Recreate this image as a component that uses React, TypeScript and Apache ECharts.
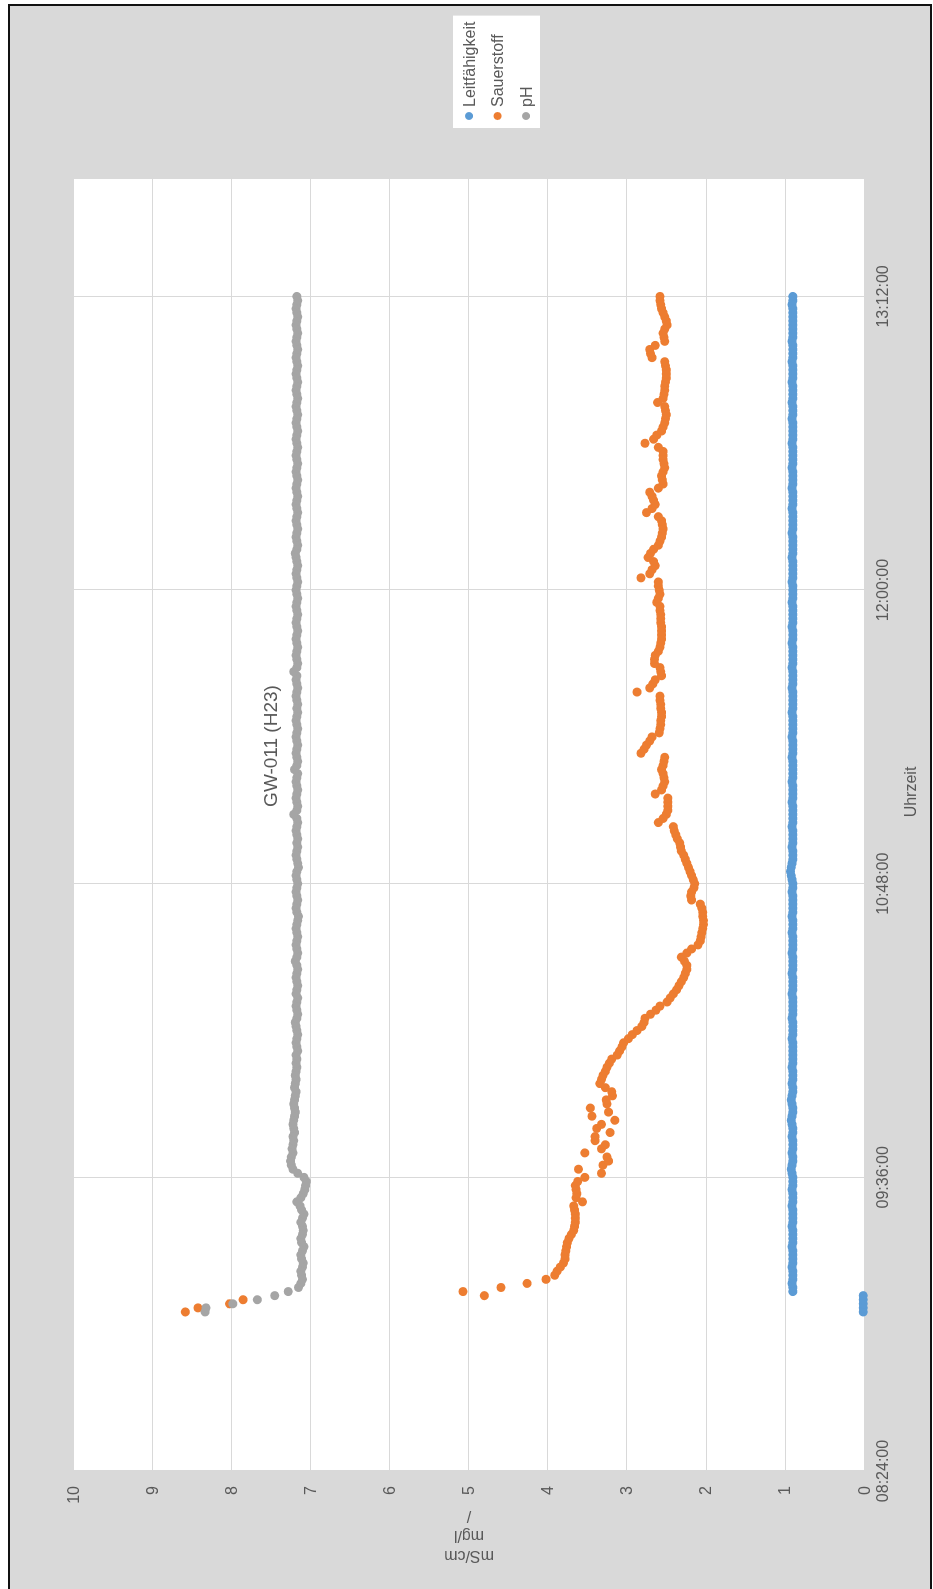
import React, { useEffect, useRef } from "react";
import * as echarts from "echarts";

// ---------- texts ----------
const TITLE = "GW-011 (H23)";
const SERIES_NAMES = ["Leitfähigkeit", "Sauerstoff", "pH"];
const X_AXIS_NAME = "Uhrzeit";
const Y_AXIS_NAME_LINES = ["mS/cm", "mg/l", "/"];

// ---------- axes (minutes since midnight) ----------
const TIME_MIN = 504; // 08:24:00
const TIME_MAX = 820.8; // 13:40:48
const TIME_STEP = 72; // 01:12:00
const VALUE_MIN = 0;
const VALUE_MAX = 10;
const VALUE_STEP = 1;

// ---------- samples: one reading per minute from 09:03 ----------
const SAMPLE_START = 543; // 09:03
const SAMPLE_STEP = 1;

const leitfaehigkeit = [
  0.01, 0.01, 0.01, 0.01, 0.01,
  0.90, 0.90, 0.91, 0.90, 0.90, 0.90, 0.91, 0.90, 0.90, 0.90, 0.90, 0.91, 0.90, 0.90, 0.90, 0.90, 0.91, 0.90, 0.90, 0.90,
  0.90, 0.91, 0.90, 0.90, 0.90, 0.91, 0.90, 0.90, 0.90, 0.91, 0.92, 0.91, 0.90, 0.90, 0.91, 0.90, 0.90, 0.90, 0.91, 0.90,
  0.90, 0.91, 0.92, 0.91, 0.90, 0.90, 0.91, 0.92, 0.91, 0.90, 0.90, 0.91, 0.90, 0.90, 0.90, 0.91, 0.90, 0.90, 0.90, 0.90,
  0.90, 0.90, 0.91, 0.90, 0.90, 0.90, 0.90, 0.91, 0.90, 0.90, 0.90, 0.90, 0.90, 0.91, 0.90, 0.90, 0.90, 0.90, 0.91, 0.90,
  0.90, 0.90, 0.90, 0.91, 0.90, 0.90, 0.90, 0.90, 0.91, 0.90, 0.90, 0.90, 0.91, 0.90, 0.90, 0.90, 0.90, 0.90, 0.91, 0.90,
  0.90, 0.91, 0.92, 0.93, 0.92, 0.91, 0.90, 0.90, 0.90, 0.91, 0.90, 0.90, 0.90, 0.90, 0.91, 0.90, 0.90, 0.90, 0.90, 0.90,
  0.91, 0.90, 0.90, 0.90, 0.90, 0.91, 0.90, 0.90, 0.90, 0.90, 0.90, 0.91, 0.90, 0.90, 0.90, 0.90, 0.91, 0.90, 0.90, 0.90,
  0.90, 0.90, 0.91, 0.90, 0.90, 0.90, 0.90, 0.90, 0.91, 0.90, 0.90, 0.90, 0.90, 0.91, 0.90, 0.90, 0.90, 0.90, 0.90, 0.91,
  0.90, 0.90, 0.90, 0.91, 0.90, 0.90, 0.90, 0.90, 0.90, 0.91, 0.90, 0.90, 0.90, 0.90, 0.91, 0.90, 0.90, 0.90, 0.90, 0.90,
  0.91, 0.90, 0.90, 0.90, 0.90, 0.90, 0.91, 0.90, 0.90, 0.90, 0.90, 0.90, 0.91, 0.90, 0.90, 0.90, 0.90, 0.91, 0.90, 0.90,
  0.90, 0.90, 0.91, 0.90, 0.90, 0.90, 0.90, 0.90, 0.91, 0.90, 0.90, 0.90, 0.90, 0.90, 0.91, 0.90, 0.90, 0.90, 0.91, 0.90,
  0.90, 0.90, 0.90, 0.91, 0.90, 0.90, 0.90, 0.90, 0.91, 0.90, 0.90, 0.90, 0.90, 0.91, 0.90, 0.90, 0.90, 0.90, 0.90, 0.90,
  0.90, 0.90, 0.91, 0.90, 0.90,
];

const sauerstoff = [
  8.58, 8.42, 8.02, 7.85, 4.80, 5.07, 4.59, 4.26, 4.02, 3.91,
  3.88, 3.84, 3.80, 3.78, 3.78, 3.77, 3.76, 3.75, 3.73, 3.70,
  3.67, 3.66, 3.65, 3.65, 3.65, 3.66, 3.67, 3.56, 3.64, 3.63,
  3.64, 3.65, 3.62, 3.53, 3.32, 3.61, 3.30, 3.23, 3.25, 3.53,
  3.32, 3.27, 3.40, 3.40, 3.21, 3.38, 3.32, 3.15, 3.44, 3.23,
  3.46, 3.25, 3.26, 3.18, 3.19, 3.27, 3.34, 3.32, 3.30, 3.27,
  3.25, 3.22, 3.19, 3.12, 3.09, 3.06, 3.04, 2.98, 2.93, 2.87,
  2.81, 2.78, 2.77, 2.70, 2.63, 2.58, 2.49, 2.45, 2.41, 2.37,
  2.34, 2.31, 2.28, 2.26, 2.24, 2.24, 2.27, 2.31, 2.24, 2.18,
  2.10, 2.07, 2.06, 2.05, 2.04, 2.03, 2.03, 2.04, 2.04, 2.05,
  2.07, 2.18, 2.19, 2.18, 2.15, 2.14, 2.16, 2.18, 2.20, 2.22,
  2.24, 2.26, 2.28, 2.31, 2.32, 2.33, 2.36, 2.38, 2.40, 2.41,
  2.60, 2.54, 2.50, 2.48, 2.48, 2.48, 2.48, 2.64, 2.56, 2.54,
  2.52, 2.53, 2.54, 2.56, 2.54, 2.53, 2.52, 2.82, 2.78, 2.75,
  2.71, 2.68, 2.59, 2.58, 2.57, 2.57, 2.56, 2.56, 2.57, 2.57,
  2.58, 2.58, 2.87, 2.71, 2.67, 2.64, 2.56, 2.57, 2.58, 2.65,
  2.65, 2.64, 2.60, 2.58, 2.57, 2.56, 2.56, 2.56, 2.56, 2.57,
  2.57, 2.57, 2.58, 2.58, 2.62, 2.60, 2.58, 2.59, 2.60, 2.60,
  2.82, 2.71, 2.68, 2.64, 2.66, 2.73, 2.70, 2.66, 2.60, 2.58,
  2.56, 2.55, 2.54, 2.55, 2.56, 2.60, 2.75, 2.68, 2.64, 2.66,
  2.68, 2.71, 2.60, 2.54, 2.55, 2.56, 2.54, 2.52, 2.53, 2.54,
  2.54, 2.54, 2.60, 2.77, 2.66, 2.62, 2.56, 2.54, 2.52, 2.51,
  2.50, 2.51, 2.52, 2.61, 2.54, 2.53, 2.52, 2.52, 2.51, 2.50,
  2.50, 2.50, 2.51, 2.52, 2.68, 2.70, 2.71, 2.64, 2.52, 2.53,
  2.54, 2.52, 2.49, 2.50, 2.52, 2.54, 2.56, 2.57, 2.58, 2.58,
];

const ph = [
  8.33, 8.32, 7.98, 7.67, 7.45, 7.28, 7.15,
  7.12, 7.10, 7.11, 7.12, 7.10, 7.09, 7.11, 7.12, 7.10, 7.08, 7.11, 7.12, 7.10, 7.09,
  7.10, 7.12, 7.10, 7.08, 7.11, 7.13, 7.17, 7.12, 7.09, 7.07, 7.06, 7.05, 7.08,
  7.16, 7.22, 7.24, 7.25, 7.24, 7.22, 7.23, 7.22, 7.21, 7.22, 7.20, 7.21, 7.22, 7.21,
  7.20, 7.19, 7.20, 7.21, 7.20, 7.19, 7.18, 7.20, 7.19, 7.18, 7.19, 7.18, 7.17, 7.18,
  7.17, 7.18, 7.16, 7.17, 7.18, 7.17, 7.16, 7.17, 7.18, 7.19, 7.17, 7.16, 7.17, 7.18, 7.17, 7.16, 7.18, 7.17, 7.16, 7.17,
  7.18, 7.17, 7.16, 7.17, 7.19, 7.17, 7.16, 7.17, 7.18, 7.17, 7.16, 7.17, 7.18, 7.17, 7.16, 7.15, 7.17, 7.18, 7.17, 7.16,
  7.17, 7.18, 7.17, 7.16, 7.17, 7.18, 7.17, 7.15, 7.16, 7.17, 7.18, 7.17, 7.16, 7.17, 7.16, 7.17, 7.18, 7.17, 7.16, 7.17,
  7.21, 7.17, 7.16, 7.17, 7.18, 7.17, 7.16, 7.17, 7.18, 7.17, 7.16, 7.20, 7.17, 7.16, 7.17, 7.18, 7.17, 7.16, 7.17, 7.18,
  7.17, 7.16, 7.17, 7.18, 7.17, 7.16, 7.17, 7.16, 7.17, 7.18, 7.17, 7.16, 7.17, 7.18, 7.17, 7.21, 7.17, 7.16, 7.17, 7.18,
  7.17, 7.16, 7.17, 7.18, 7.17, 7.16, 7.17, 7.18, 7.17, 7.16, 7.17, 7.18, 7.17, 7.16, 7.17, 7.18, 7.17, 7.16, 7.17, 7.18,
  7.17, 7.16, 7.17, 7.18, 7.19, 7.17, 7.16, 7.17, 7.18, 7.17, 7.16, 7.17, 7.18, 7.17, 7.16, 7.17, 7.18, 7.17, 7.16, 7.17,
  7.18, 7.17, 7.16, 7.17, 7.18, 7.17, 7.16, 7.17, 7.18, 7.17, 7.16, 7.17, 7.18, 7.17, 7.16, 7.17, 7.18, 7.17, 7.16, 7.17,
  7.18, 7.17, 7.16, 7.17, 7.18, 7.17, 7.16, 7.17, 7.18, 7.17, 7.16, 7.17, 7.18, 7.17, 7.16, 7.17, 7.18, 7.17, 7.16, 7.17,
  7.18, 7.17, 7.16, 7.17, 7.18, 7.17, 7.16, 7.17,
];

const SERIES_VALUES = [leitfaehigkeit, sauerstoff, ph];
const SERIES_COLORS = ["#5b9bd5", "#ed7d31", "#a5a5a5"];

// ---------- layout (chart drawn landscape, then turned 90° counter-clockwise) ----------
const W = 1589;
const H = 933;
const FONT = "'Liberation Sans', Arial, Helvetica, sans-serif";
const TEXT_COLOR = "#595959";
const GRID_COLOR = "#d9d9d9";

function fmtTime(v: number): string {
  const total = Math.round(v * 60);
  const h = Math.floor(total / 3600);
  const m = Math.floor((total % 3600) / 60);
  const s = total % 60;
  const p = (n: number) => String(n).padStart(2, "0");
  return `${p(h)}:${p(m)}:${p(s)}`;
}

export default function App() {
  const ref = useRef<HTMLDivElement>(null);

  useEffect(() => {
    if (!ref.current) return;
    const chart = echarts.init(ref.current, null, { renderer: "svg", width: W, height: H });

    const option: any = {
      animation: false,
      backgroundColor: "#d9d9d9",
      textStyle: { fontFamily: FONT },
      graphic: [
        // white margin outside the frame
        { type: "rect", silent: true, z: 200, shape: { x: 0, y: 0, width: W, height: 8 }, style: { fill: "#ffffff" } },
        { type: "rect", silent: true, z: 200, shape: { x: 1585, y: 0, width: 10, height: H }, style: { fill: "#ffffff" } },
        { type: "rect", silent: true, z: 200, shape: { x: 0, y: 932, width: W, height: 5 }, style: { fill: "#ffffff" } },
        // frame lines
        { type: "line", silent: true, z: 201, shape: { x1: 0, y1: 9, x2: 1584, y2: 9 }, style: { stroke: "#111", lineWidth: 2 } },
        { type: "line", silent: true, z: 201, shape: { x1: 1584, y1: 8, x2: 1584, y2: 932 }, style: { stroke: "#111", lineWidth: 2 } },
        { type: "line", silent: true, z: 201, shape: { x1: 0, y1: 931, x2: 1584, y2: 931 }, style: { stroke: "#111", lineWidth: 2 } },
        // title
        {
          type: "text", z: 100, x: 843, y: 270,
          style: { text: TITLE, fontSize: 19, fill: TEXT_COLOR, align: "center", verticalAlign: "middle", fontFamily: FONT },
        },
        // time axis name
        {
          type: "text", z: 100, x: 797, y: 910,
          style: { text: X_AXIS_NAME, fontSize: 16, fill: TEXT_COLOR, align: "center", verticalAlign: "middle", fontFamily: FONT },
        },
        // value axis name
        {
          type: "text", z: 100, x: 52, y: 469, rotation: Math.PI / 2,
          style: {
            text: Y_AXIS_NAME_LINES.join("\n"), fontSize: 16, lineHeight: 20, fill: TEXT_COLOR,
            align: "center", verticalAlign: "middle", fontFamily: FONT,
          },
        },
      ],
      legend: {
        orient: "vertical",
        left: 1461,
        top: 453,
        backgroundColor: "#ffffff",
        padding: [8, 6, 6, 8],
        itemGap: 12.5,
        itemWidth: 8,
        itemHeight: 8,
        icon: "circle",
        data: SERIES_NAMES,
        textStyle: { fontSize: 16, color: TEXT_COLOR, fontFamily: FONT },
      },
      grid: {
        left: 118, top: 73, width: 1292, height: 791,
        show: true, backgroundColor: "#ffffff", borderWidth: 0, containLabel: false,
      },
      xAxis: {
        type: "value",
        min: TIME_MIN,
        max: TIME_MAX,
        interval: TIME_STEP,
        axisLine: { show: true, onZero: false, lineStyle: { color: GRID_COLOR, width: 1 } },
        axisTick: { show: false },
        axisLabel: {
          margin: 10, fontSize: 16, color: TEXT_COLOR, fontFamily: FONT,
          showMaxLabel: false, formatter: (v: number) => fmtTime(v),
        },
        splitLine: { show: true, showMaxLine: false, lineStyle: { color: GRID_COLOR, width: 1 } },
      },
      yAxis: {
        type: "value",
        min: VALUE_MIN,
        max: VALUE_MAX,
        interval: VALUE_STEP,
        axisLine: { show: true, lineStyle: { color: GRID_COLOR, width: 1 } },
        axisTick: { show: false },
        axisLabel: { margin: 15, fontSize: 16, color: TEXT_COLOR, fontFamily: FONT },
        splitLine: { show: true, lineStyle: { color: GRID_COLOR, width: 1 } },
      },
      series: SERIES_NAMES.map((name, k) => ({
        name,
        type: "scatter",
        symbol: "circle",
        symbolSize: 9,
        itemStyle: { color: SERIES_COLORS[k], opacity: 1 },
        data: SERIES_VALUES[k].map((v, i) => [SAMPLE_START + i * SAMPLE_STEP, v]),
        z: 2 + k,
      })),
    };

    chart.setOption(option);
    return () => chart.dispose();
  }, []);

  return (
    <div
      style={{
        position: "fixed",
        left: 0,
        top: 0,
        width: W,
        height: H,
        background: "#ffffff",
        transformOrigin: "0 0",
        transform: `translate(0px, ${W}px) rotate(-90deg)`,
      }}
    >
      <div ref={ref} style={{ width: W, height: H }} />
    </div>
  );
}
